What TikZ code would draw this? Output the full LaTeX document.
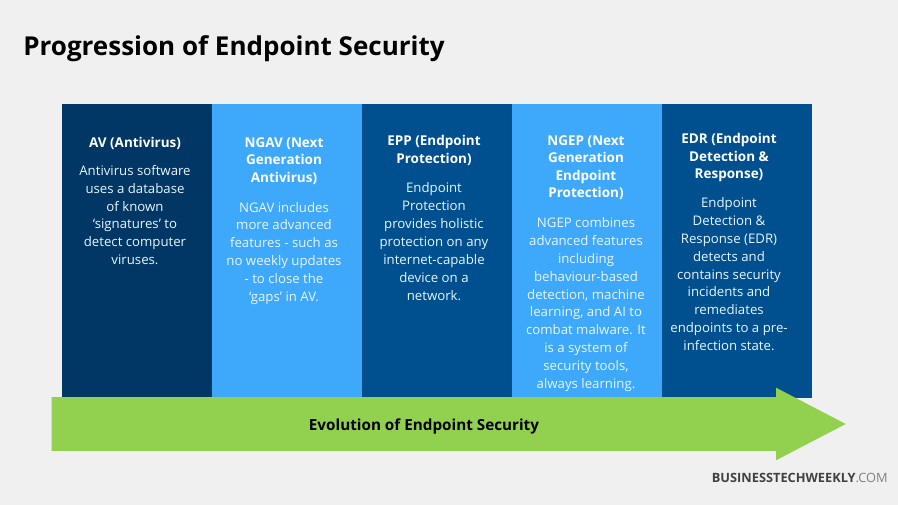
\documentclass[tikz,border=0pt]{standalone}
\usepackage{fontspec}
\setmainfont{Open Sans}
\usetikzlibrary{positioning}
\usetikzlibrary{shapes.arrows}
\definecolor{pagegray}{RGB}{240,240,240}
\definecolor{navy}{RGB}{0,55,100}
\definecolor{midblue}{RGB}{0,80,143}
\definecolor{skyblue}{RGB}{62,168,250}
\definecolor{leafgreen}{RGB}{146,208,80}
\definecolor{inkgray}{RGB}{64,64,64}
\tikzset{
	colbox/.style={draw=none, minimum width=3.75cm, minimum height=7.35cm, inner sep=0pt, outer sep=0pt},
	headtext/.style={anchor=north, align=center, text=white, inner sep=0pt, font=\fontsize{9.6}{12.55}\selectfont\bfseries},
	bodytext/.style={anchor=north, align=center, text=white!88!skyblue, inner sep=0pt, font=\fontsize{9.4}{12.7}\selectfont},
}

\begin{document}
\begin{tikzpicture}
	\useasboundingbox[fill=pagegray] (0,0) rectangle (22.45,12.625);
	\node[anchor=west, inner sep=0pt, font=\fontsize{18.5}{22}\selectfont\bfseries] (title) at (0.575,11.4) {Progression of Endpoint Security};
	% columns
	\begin{scope} [every node/.style={colbox, anchor=north west}]
		\node[fill=navy] (c1) at (1.55,10.025){};
		\node[fill=skyblue] (c2) at (5.3,10.025){};
		\node[fill=midblue] (c3) at (9.05,10.025){};
		\node[fill=skyblue] (c4) at (12.8,10.025){};
		\node[fill=midblue] (c5) at (16.55,10.025){};
	\end{scope}
	% column texts
	\node[headtext] (h1) at (3.375,9.2) {AV (Antivirus)};
	\node[bodytext, below=0.375cm of h1] (b1) {Antivirus software\\uses a database\\of known\\‘signatures’ to\\detect computer\\viruses.};
	\node[headtext] (h2) at (7.1,9.2) {NGAV (Next\\Generation\\Antivirus)};
	\node[bodytext, below=0.425cm of h2] (b2) {NGAV includes\\more advanced\\features - such as\\no weekly updates\\- to close the\\‘gaps’ in AV.};
	\node[headtext] (h3) at (10.85,9.25) {EPP (Endpoint\\Protection)};
	\node[bodytext, below=0.425cm of h3] (b3) {Endpoint\\Protection\\provides holistic\\protection on any\\internet-capable\\device on a\\network.};
	\node[headtext] (h4) at (14.65,9.25) {NGEP (Next\\Generation\\Endpoint\\Protection)};
	\node[bodytext, below=0.425cm of h4] (b4) {NGEP combines\\advanced features\\including\\behaviour-based\\detection, machine\\learning, and AI to\\combat malware. It\\is a system of\\security tools,\\always learning.};
	\node[headtext] (h5) at (18.225,9.3) {EDR (Endpoint\\Detection \&\\Response)};
	\node[bodytext, below=0.375cm of h5] (b5) {Endpoint\\Detection \&\\Response (EDR)\\detects and\\contains security\\incidents and\\remediates\\endpoints to a pre-\\infection state.};
	% arrow
	\node[single arrow, fill=leafgreen, minimum height=19.85cm, text height=1.325cm, text depth=0pt, single arrow head extend=0.2375cm, single arrow tip angle=55, single arrow head indent=0pt, inner sep=0pt, outer sep=0pt] (evo) at (10.575,2.025){};
	\node[inner sep=0pt, font=\fontsize{10.85}{13}\selectfont\bfseries] (evotext) at (10.6,1.95) {Evolution of Endpoint Security};
	% brand
	\node[anchor=east, inner sep=0pt, text=inkgray, font=\fontsize{9.1}{11}\selectfont] (brand) at (22.2,0.675) {\textbf{BUSINESSTECHWEEKLY}\textcolor{gray}{.COM}};
\end{tikzpicture}
\end{document}
